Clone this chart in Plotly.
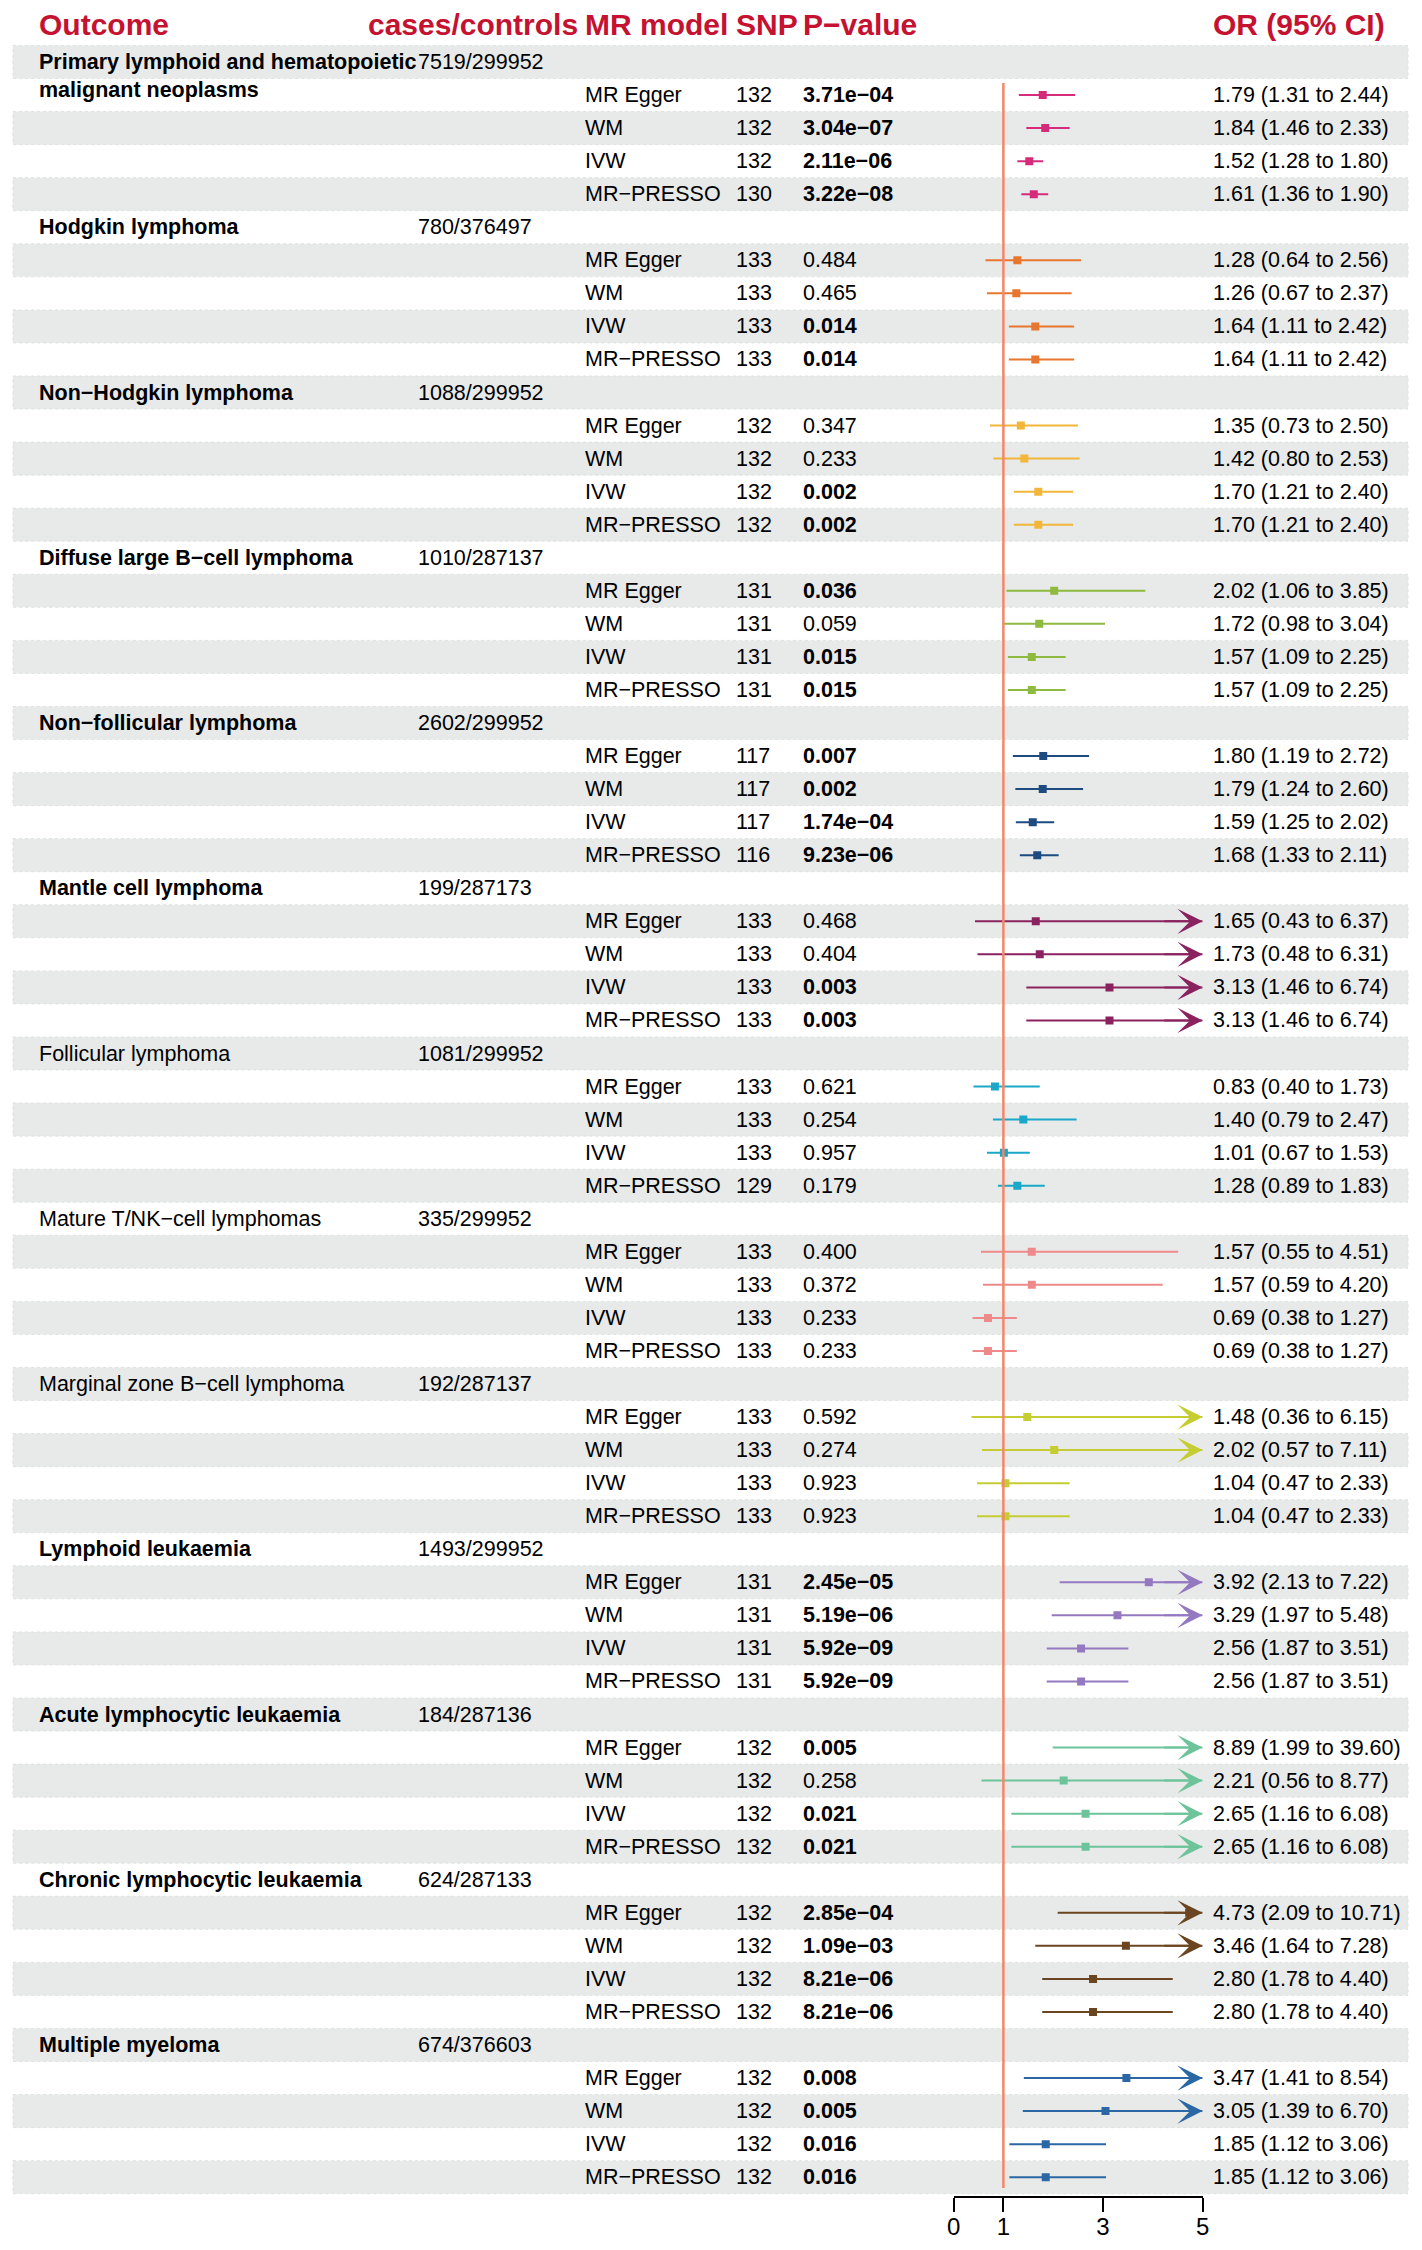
import textwrap
import plotly.graph_objects as go

# ---------------- data ----------------
groups = [
    "Primary lymphoid and hematopoietic malignant neoplasms",
    "Hodgkin lymphoma",
    "Non\u2212Hodgkin lymphoma",
    "Diffuse large B\u2212cell lymphoma",
    "Non\u2212follicular lymphoma",
    "Mantle cell lymphoma",
    "Follicular lymphoma",
    "Mature T/NK\u2212cell lymphomas",
    "Marginal zone B\u2212cell lymphoma",
    "Lymphoid leukaemia",
    "Acute lymphocytic leukaemia",
    "Chronic lymphocytic leukaemia",
    "Multiple myeloma",
]
cases_controls = [
    "7519/299952", "780/376497", "1088/299952", "1010/287137", "2602/299952",
    "199/287173", "1081/299952", "335/299952", "192/287137", "1493/299952",
    "184/287136", "624/287133", "674/376603",
]
methods = ["MR Egger", "WM", "IVW", "MR\u2212PRESSO"]
snps = [
    [132, 132, 132, 130], [133, 133, 133, 133], [132, 132, 132, 132],
    [131, 131, 131, 131], [117, 117, 117, 116], [133, 133, 133, 133],
    [133, 133, 133, 129], [133, 133, 133, 133], [133, 133, 133, 133],
    [131, 131, 131, 131], [132, 132, 132, 132], [132, 132, 132, 132],
    [132, 132, 132, 132],
]
pvalues = [
    ["3.71e\u221204", "3.04e\u221207", "2.11e\u221206", "3.22e\u221208"],
    ["0.484", "0.465", "0.014", "0.014"],
    ["0.347", "0.233", "0.002", "0.002"],
    ["0.036", "0.059", "0.015", "0.015"],
    ["0.007", "0.002", "1.74e\u221204", "9.23e\u221206"],
    ["0.468", "0.404", "0.003", "0.003"],
    ["0.621", "0.254", "0.957", "0.179"],
    ["0.400", "0.372", "0.233", "0.233"],
    ["0.592", "0.274", "0.923", "0.923"],
    ["2.45e\u221205", "5.19e\u221206", "5.92e\u221209", "5.92e\u221209"],
    ["0.005", "0.258", "0.021", "0.021"],
    ["2.85e\u221204", "1.09e\u221203", "8.21e\u221206", "8.21e\u221206"],
    ["0.008", "0.005", "0.016", "0.016"],
]
odds_ratio = [
    [1.79, 1.84, 1.52, 1.61], [1.28, 1.26, 1.64, 1.64], [1.35, 1.42, 1.70, 1.70],
    [2.02, 1.72, 1.57, 1.57], [1.80, 1.79, 1.59, 1.68], [1.65, 1.73, 3.13, 3.13],
    [0.83, 1.40, 1.01, 1.28], [1.57, 1.57, 0.69, 0.69], [1.48, 2.02, 1.04, 1.04],
    [3.92, 3.29, 2.56, 2.56], [8.89, 2.21, 2.65, 2.65], [4.73, 3.46, 2.80, 2.80],
    [3.47, 3.05, 1.85, 1.85],
]
ci_low = [
    [1.31, 1.46, 1.28, 1.36], [0.64, 0.67, 1.11, 1.11], [0.73, 0.80, 1.21, 1.21],
    [1.06, 0.98, 1.09, 1.09], [1.19, 1.24, 1.25, 1.33], [0.43, 0.48, 1.46, 1.46],
    [0.40, 0.79, 0.67, 0.89], [0.55, 0.59, 0.38, 0.38], [0.36, 0.57, 0.47, 0.47],
    [2.13, 1.97, 1.87, 1.87], [1.99, 0.56, 1.16, 1.16], [2.09, 1.64, 1.78, 1.78],
    [1.41, 1.39, 1.12, 1.12],
]
ci_high = [
    [2.44, 2.33, 1.80, 1.90], [2.56, 2.37, 2.42, 2.42], [2.50, 2.53, 2.40, 2.40],
    [3.85, 3.04, 2.25, 2.25], [2.72, 2.60, 2.02, 2.11], [6.37, 6.31, 6.74, 6.74],
    [1.73, 2.47, 1.53, 1.83], [4.51, 4.20, 1.27, 1.27], [6.15, 7.11, 2.33, 2.33],
    [7.22, 5.48, 3.51, 3.51], [39.60, 8.77, 6.08, 6.08], [10.71, 7.28, 4.40, 4.40],
    [8.54, 6.70, 3.06, 3.06],
]
group_colors = [
    "#D62B7B", "#E8762F", "#F2B63A", "#8DBA3F", "#1D4B80", "#8B2260", "#1AA7C8",
    "#EE8A8A", "#C5CD33", "#9479C1", "#6DC39A", "#6B4520", "#2A67A4",
]
tick_values = [0, 1, 3, 5]
header_labels = ["Outcome", "cases/controls", "MR model", "SNP", "P\u2212value", "OR (95% CI)"]

# ---------------- layout constants (page pixels of the reference) ----------------
W, H = 1422, 2250
ROW0, ROWH = 62.0, 33.05           # pixel centre of first row, row height
AXIS_Y = 2196.0                    # pixel of x-axis line
X0_PX, UNIT_PX = 956.0, 50.3       # pixel of OR=0 and px per unit
XMAX = 5
FONT = "Liberation Sans, Arial, Helvetica, sans-serif"
BODY = 21.5
HEAD = 30
RED = "#C41230"
STRIPE = "#E7EAE9"
TXT_PAD = 3

col_px = {"outcome": 33, "cases_head": 366, "cases": 416, "model": 585,
          "snp": 737, "p": 805, "or": 1219}


def px(p):
    return p / W


def pval(s):
    return float(s.replace("\u2212", "-"))


n_rows = len(groups) * 5
y_top = (0 - ROW0) / ROWH
y_bot = (AXIS_Y - ROW0) / ROWH

fig = go.Figure()
shapes = []
annotations = []

# zebra stripes
for r in range(n_rows):
    if r % 2 == 0:
        shapes.append(dict(type="rect", xref="paper", yref="y", x0=px(6), x1=px(1415),
                           y0=r - 0.5, y1=r + 0.5, fillcolor=STRIPE, layer="below",
                           line=dict(color="#D9DDDC", width=0.8, dash="dot")))


def add_text(xpage, y, text, size=BODY, color="black"):
    annotations.append(dict(xref="paper", yref="y", x=px(xpage - TXT_PAD), y=y, text=text,
                            showarrow=False, xanchor="left", yanchor="middle",
                            font=dict(family=FONT, size=size, color=color)))


# header
hy = (24 - ROW0) / ROWH
for lab, key in zip(header_labels, ["outcome", "cases_head", "model", "snp", "p", "or"]):
    add_text(col_px[key], hy, "<b>%s</b>" % lab, size=HEAD, color=RED)

for g, name in enumerate(groups):
    r0 = g * 5
    color = group_colors[g]
    sig_any = any(pval(p) < 0.05 for p in pvalues[g])
    lines = textwrap.wrap(name, 34)
    for k, ln in enumerate(lines):
        t = "<b>%s</b>" % ln if sig_any else ln
        add_text(col_px["outcome"], r0 + k - (0.15 if k > 0 else 0), t)
    add_text(col_px["cases"], r0, cases_controls[g])

    lx, ly, mx, my = [], [], [], []
    for m in range(4):
        r = r0 + 1 + m
        add_text(col_px["model"], r, methods[m])
        add_text(col_px["snp"], r, str(snps[g][m]))
        p = pvalues[g][m]
        add_text(col_px["p"], r, "<b>%s</b>" % p if pval(p) < 0.05 else p)
        add_text(col_px["or"], r, "%.2f (%.2f to %.2f)" % (odds_ratio[g][m], ci_low[g][m], ci_high[g][m]))
        hi = min(ci_high[g][m], XMAX)
        lx += [ci_low[g][m], hi, None]
        ly += [r, r, None]
        mx.append(odds_ratio[g][m])
        my.append(r)
        if ci_high[g][m] > XMAX:
            annotations.append(dict(xref="x", yref="y", axref="x", ayref="y",
                                    x=XMAX, y=r, ax=XMAX - 0.8, ay=r, text="",
                                    showarrow=True, arrowhead=3, arrowsize=2.1,
                                    arrowwidth=2, arrowcolor=color, standoff=0))
    fig.add_trace(go.Scatter(x=lx, y=ly, mode="lines", line=dict(color=color, width=2),
                             hoverinfo="skip", showlegend=False))
    fig.add_trace(go.Scatter(x=mx, y=my, mode="markers",
                             marker=dict(symbol="square", size=8, color=color, line=dict(width=0)),
                             showlegend=False, cliponaxis=True))

# reference line at OR = 1
shapes.append(dict(type="line", xref="x", yref="y", x0=1, x1=1,
                   y0=(83 - ROW0) / ROWH, y1=(2188 - ROW0) / ROWH,
                   line=dict(color="#F4876A", width=2.5), layer="above"))

fig.update_layout(
    width=W, height=H,
    margin=dict(l=0, r=0, t=0, b=0),
    paper_bgcolor="white", plot_bgcolor="rgba(0,0,0,0)",
    showlegend=False,
    shapes=shapes, annotations=annotations,
    xaxis=dict(domain=[px(X0_PX), px(X0_PX + XMAX * UNIT_PX)], range=[0, XMAX],
               tickvals=tick_values, ticktext=[str(v) for v in tick_values],
               showline=True, linecolor="black", linewidth=1.5,
               ticks="outside", ticklen=14, tickwidth=1.5, tickcolor="black",
               ticklabelstandoff=-6,
               showgrid=False, zeroline=False,
               tickfont=dict(family=FONT, size=24, color="black")),
    yaxis=dict(domain=[1 - AXIS_Y / H, 1], range=[y_bot, y_top], visible=False,
               showgrid=False, zeroline=False),
)

fig.write_html("out.html", config={"displayModeBar": False},
               post_script="document.body.style.margin='0px';")
